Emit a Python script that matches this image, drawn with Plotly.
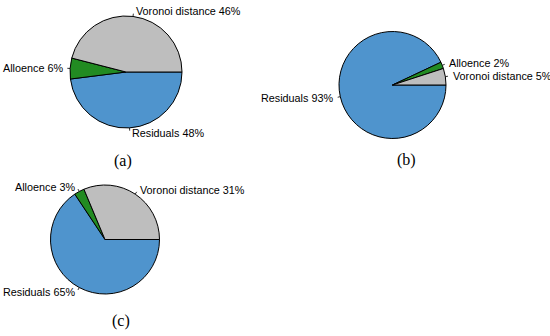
import math
import plotly.graph_objects as go

categories = ["Voronoi distance", "Alloence", "Residuals"]
values_a = [46, 6, 48]
values_b = [5, 2, 93]
values_c = [31, 3, 65]
panel_labels = ["(a)", "(b)", "(c)"]

colors = ["#BEBEBE", "#228B22", "#4F94CD"]

W, H = 550, 336
# pie geometry in pixels: center x, center y, radius
geoms = [(126, 72, 56), (392.5, 85, 53.5), (105, 239.5, 54.5)]
caption_pos = [(122.5, 161), (406, 160), (121, 321)]
series = [values_a, values_b, values_c]


def px(x):
    return x / W


def py(y):
    return 1 - y / H


fig = go.Figure()
shapes = []
annotations = []
for vals, (cx, cy, r), cap, (capx, capy) in zip(series, geoms, panel_labels, caption_pos):
    # slices laid counterclockwise from 3 o'clock: Voronoi, Alloence, Residuals
    # (plotly: clockwise from rotation with reversed order gives the same layout)
    fig.add_trace(go.Pie(
        labels=categories[::-1],
        values=vals[::-1],
        sort=False,
        direction="clockwise",
        rotation=90,
        marker=dict(colors=colors[::-1], line=dict(color="black", width=1)),
        textinfo="none",
        hoverinfo="label+value",
        showlegend=False,
        domain=dict(x=[px(cx - r), px(cx + r)], y=[py(cy + r), py(cy - r)]),
    ))
    total = sum(vals)
    cum = 0
    for cat, v in zip(categories, vals):
        mid = (cum + v / 2) / total * 2 * math.pi
        cum += v
        c, s = math.cos(mid), math.sin(mid)
        shapes.append(dict(
            type="line", xref="paper", yref="paper",
            x0=px(cx + r * c), y0=py(cy - r * s),
            x1=px(cx + 1.05 * r * c), y1=py(cy - 1.05 * r * s),
            line=dict(color="black", width=0.8),
        ))
        annotations.append(dict(
            x=px(cx + 1.1 * r * c), y=py(cy - 1.1 * r * s),
            xref="paper", yref="paper",
            text=f"{cat} {v}%", showarrow=False,
            xanchor="left" if c >= 0 else "right", yanchor="middle",
            font=dict(family="Liberation Sans, Arial, sans-serif", size=10.8, color="black"),
        ))
    annotations.append(dict(
        x=px(capx), y=py(capy), xref="paper", yref="paper",
        text=cap, showarrow=False, xanchor="center", yanchor="middle",
        font=dict(family="Liberation Serif, serif", size=16, color="black"),
    ))

fig.update_layout(
    width=W, height=H,
    margin=dict(l=0, r=0, t=0, b=0),
    paper_bgcolor="white", plot_bgcolor="white",
    shapes=shapes, annotations=annotations,
)
fig.write_html("out.html", config={"displayModeBar": False},
               post_script="document.body.style.margin='0';")
